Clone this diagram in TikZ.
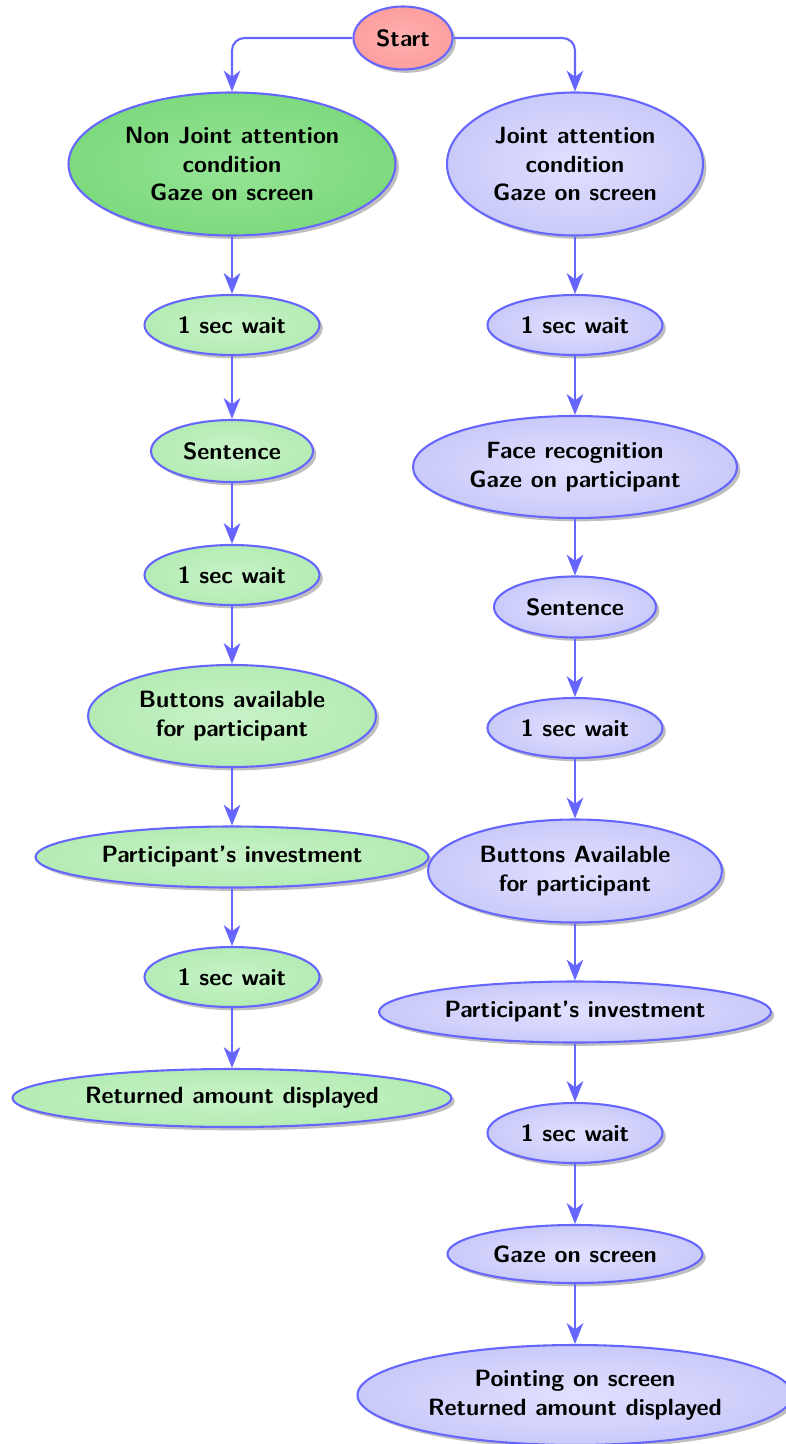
\documentclass[tikz,border=0pt]{standalone}
\usetikzlibrary{shapes.geometric,shadows,arrows.meta}
\definecolor{bord}{RGB}{102,102,255}
\definecolor{gOut}{RGB}{180,236,180}
\definecolor{gIn}{RGB}{200,242,200}
\definecolor{dgOut}{RGB}{125,218,125}
\definecolor{dgIn}{RGB}{150,228,150}
\definecolor{bOut}{RGB}{202,202,250}
\definecolor{bIn}{RGB}{224,224,255}
\definecolor{rOut}{RGB}{252,158,158}
\definecolor{rIn}{RGB}{255,176,176}
\begin{document}
\begin{tikzpicture}[x=0.48pt,y=-0.48pt,
  base/.style={ellipse,draw=bord,line width=1pt,align=center,
    font=\fontsize{11.3}{13.7}\selectfont\sffamily\bfseries,inner sep=1pt,
    drop shadow={shadow xshift=1.6pt,shadow yshift=-1.6pt}},
  sz/.style 2 args={minimum width=#1*0.48pt,minimum height=#2*0.48pt},
  gnode/.style={base,inner color=gIn,outer color=gOut},
  dgnode/.style={base,inner color=dgIn,outer color=dgOut},
  bnode/.style={base,inner color=bIn,outer color=bOut},
  rnode/.style={base,inner color=rIn,outer color=rOut},
  arr/.style={draw=bord,line width=1pt,-{Stealth[length=10pt,width=8pt,inset=3pt]}},
]
\useasboundingbox (0,0) rectangle (785,1444);
% left column
\node[rnode,sz={99}{63}] (start) at (403,38) {Start};
\node[dgnode,sz={327}{143}] (nj) at (232,164) {Non Joint attention\\condition\\Gaze on screen};
\node[gnode,sz={175}{60}] (l1) at (232,325) {1 sec wait};
\node[gnode,sz={162}{62}] (l2) at (232,451) {Sentence};
\node[gnode,sz={175}{60}] (l3) at (232,575) {1 sec wait};
\node[gnode,sz={288}{102}] (l4) at (232,716) {Buttons available\\for participant};
\node[gnode,sz={393}{61}] (l5) at (232,857) {Participant's investment};
\node[gnode,sz={175}{60}] (l6) at (232,977) {1 sec wait};
\node[gnode,sz={439}{58}] (l7) at (232,1098) {Returned amount displayed};
% right column
\node[bnode,sz={256}{143}] (j) at (575,164) {Joint attention\\condition\\Gaze on screen};
\node[bnode,sz={175}{60}] (r1) at (575,325) {1 sec wait};
\node[bnode,sz={324}{102}] (r2) at (575,467) {Face recognition\\Gaze on participant};
\node[bnode,sz={162}{61}] (r3) at (575,607) {Sentence};
\node[bnode,sz={175}{60}] (r4) at (575,728) {1 sec wait};
\node[bnode,sz={294}{103}] (r5) at (575,871) {Buttons Available\\for participant};
\node[bnode,sz={392}{61}] (r6) at (575,1012) {Participant's investment};
\node[bnode,sz={175}{60}] (r7) at (575,1133) {1 sec wait};
\node[bnode,sz={255}{58}] (r8) at (575,1254) {Gaze on screen};
\node[bnode,sz={435}{100}] (r9) at (575,1395) {Pointing on screen\\Returned amount displayed};
% connectors
\draw[arr,rounded corners=6pt] (start.west) -| (nj.north);
\draw[arr,rounded corners=6pt] (start.east) -| (j.north);
\draw[arr] (nj) -- (l1);
\draw[arr] (l1) -- (l2);
\draw[arr] (l2) -- (l3);
\draw[arr] (l3) -- (l4);
\draw[arr] (l4) -- (l5);
\draw[arr] (l5) -- (l6);
\draw[arr] (l6) -- (l7);
\draw[arr] (j) -- (r1);
\draw[arr] (r1) -- (r2);
\draw[arr] (r2) -- (r3);
\draw[arr] (r3) -- (r4);
\draw[arr] (r4) -- (r5);
\draw[arr] (r5) -- (r6);
\draw[arr] (r6) -- (r7);
\draw[arr] (r7) -- (r8);
\draw[arr] (r8) -- (r9);
\end{tikzpicture}
\end{document}
